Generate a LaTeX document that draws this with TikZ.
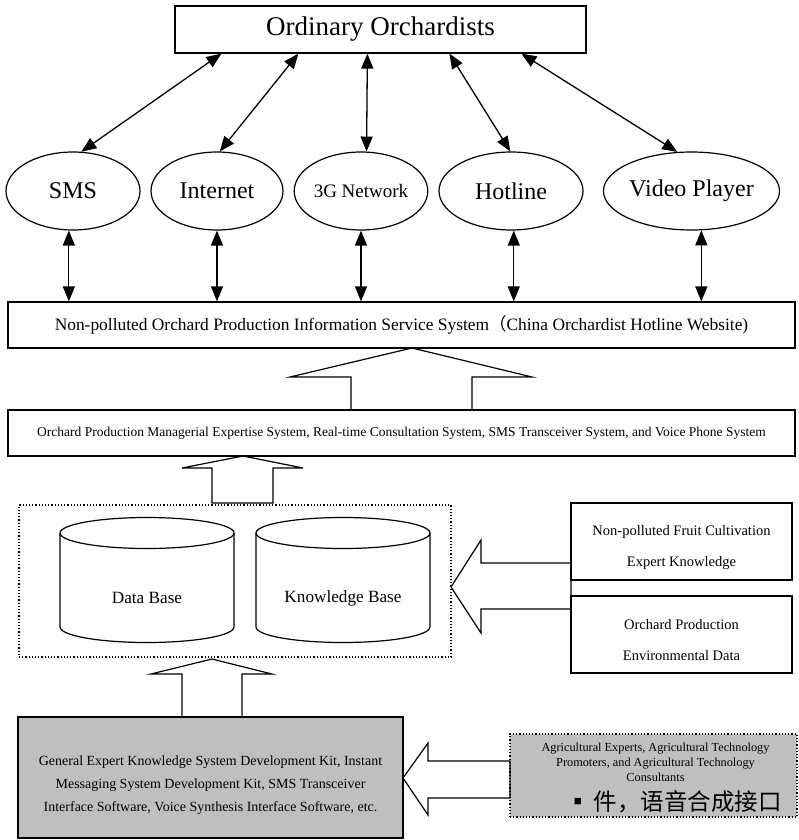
\documentclass[tikz,border=0pt]{standalone}
\usepackage{fontspec}
\setmainfont{Liberation Serif}
\newfontfamily\cjk{Noto Sans CJK SC}
\usetikzlibrary{arrows.meta,shapes.geometric}

\newcommand{\fs}[2]{\fontsize{#1}{#2}\selectfont}

\begin{document}
\begin{tikzpicture}[x=1pt,y=1pt,
	box/.style={draw,line width=1.2pt,inner sep=0pt},
	oval/.style={draw,line width=1.2pt,ellipse,inner sep=0pt,minimum height=78pt,font=\fs{24}{28}},
	dbl/.style={line width=1.3pt,{Triangle[length=15pt,width=12pt]}-{Triangle[length=15pt,width=12pt]}},
	hollow/.style={draw,line width=1.2pt,line join=miter},
	cyl/.style={line width=1.2pt}]
		\useasboundingbox (0,0) rectangle (798,-840);
		
		% users
		\node[box,minimum width=411pt,minimum height=47pt,font=\fs{27}{32}] (orch) at (380.5,-29.5) {Ordinary Orchardists};
		
		% channels
		\node[oval,minimum width=134pt] (sms) at (73,-191) {SMS};
		\node[oval,minimum width=132pt] (net) at (217,-191) {Internet};
		\node[oval,minimum width=132pt,font=\fs{19}{23}] (threeg) at (361,-191) {3G Network};
		\node[oval,minimum width=144pt] (hot) at (511,-191) {Hotline};
		\node[oval,minimum width=169pt] (video) at (691.5,-191) {Video Player};
		
		\draw[dbl] ([xshift=47pt]orch.south west) -- (sms.78);
		\draw[dbl] ([xshift=124pt]orch.south west) -- (net.86);
		\draw[dbl] ([xshift=193pt]orch.south west) -- (threeg.82);
		\draw[dbl] ([xshift=275pt]orch.south west) -- (hot.91);
		\draw[dbl] ([xshift=347pt]orch.south west) -- (video.110);
		
		% service system
		\node[box,minimum width=787pt,minimum height=46pt,font=\fs{17.4}{21}] (info) at (401.5,-325)
		{Non-polluted Orchard Production Information Service System{\cjk （}China Orchardist Hotline Website)};
		
		\draw[dbl] (sms.-96) -- (sms.-96 |- info.north);
		\draw[dbl] (net.south) -- (net.south |- info.north);
		\draw[dbl] (threeg.south) -- (threeg.south |- info.north);
		\draw[dbl] (hot.-86) -- (hot.-86 |- info.north);
		\draw[dbl] (video.-76) -- (video.-76 |- info.north);
		
		\draw[hollow] (412,-348) -- (532,-377) -- (472,-377) -- (472,-410) -- (351,-410) -- (351,-377) -- (290,-377) -- cycle;
		
		\node[box,minimum width=787pt,minimum height=46pt,font=\fs{13.5}{16}] (expert) at (401.5,-433)
		{Orchard Production Managerial Expertise System, Real-time Consultation System, SMS Transceiver System, and Voice Phone System};
		
		\draw[hollow] (243,-456) -- (303,-468) -- (273,-468) -- (273,-503) -- (212,-503) -- (212,-468) -- (182,-468) -- cycle;
		
		% bases
		\node[draw,dotted,line width=1.2pt,minimum width=432pt,minimum height=152pt] (bases) at (235,-581) {};
		\foreach \cx/\nm/\txt in {147/data/Data Base,343/know/Knowledge Base}{
			\draw[cyl] (\cx-87,-533) -- (\cx-87,-627) arc[start angle=180,end angle=360,x radius=87,y radius=15.5] -- (\cx+87,-533);
			\draw[cyl] (\cx,-533) ellipse[x radius=87,y radius=15.5];
			\node[font=\fs{17.2}{20}] (\nm) at (\cx,-598) {\txt};
		}
		
		% sources
		\node[box,minimum width=221pt,minimum height=77pt] (fruit) at (681.5,-541.5) {};
		\node[align=center,font=\fs{14.5}{31}] (fruitT) at ([yshift=-6pt]fruit.center) {Non-polluted Fruit Cultivation\\Expert Knowledge};
		\node[box,minimum width=221pt,minimum height=77pt] (env) at (681.5,-634.5) {};
		\node[align=center,font=\fs{14.5}{31}] (envT) at ([yshift=-5.5pt]env.center) {Orchard Production\\Environmental Data};
		
		\draw[hollow] (451,-587) -- (481,-540) -- (481,-563) -- (571,-563) -- (571,-609) -- (481,-609) -- (481,-633) -- cycle;
		
		% toolkits
		\node[box,fill=gray!50,minimum width=385pt,minimum height=121pt] (kit) at (210.5,-777.5) {};
		\node[align=center,font=\fs{14}{23}] (kitT) at ([yshift=-7.5pt]kit.center)
		{General Expert Knowledge System Development Kit, Instant\\Messaging System Development Kit, SMS Transceiver\\Interface Software, Voice Synthesis Interface Software, etc.};
		
		\draw[hollow] (212,-659) -- (272,-674) -- (242,-674) -- (242,-717) -- (182,-717) -- (182,-674) -- (151,-674) -- cycle;
		
		% people
		\node[draw,dotted,line width=1.2pt,fill=gray!50,minimum width=287pt,minimum height=83pt] (people) at (653.5,-775.5) {};
		\node[align=center,font=\fs{12.3}{15}] (peopleT) at (655.5,-762) {Agricultural Experts, Agricultural Technology\\Promoters, and Agricultural Technology\\Consultants};
		\node[font=\fs{23.5}{26}\cjk] (peopleC) at (674,-802) {▪\,件，语音合成接口};
		
		\draw[hollow] (403,-778) -- (428,-743) -- (428,-761) -- (510,-761) -- (510,-798) -- (428,-798) -- (428,-815) -- cycle;
\end{tikzpicture}
\end{document}
